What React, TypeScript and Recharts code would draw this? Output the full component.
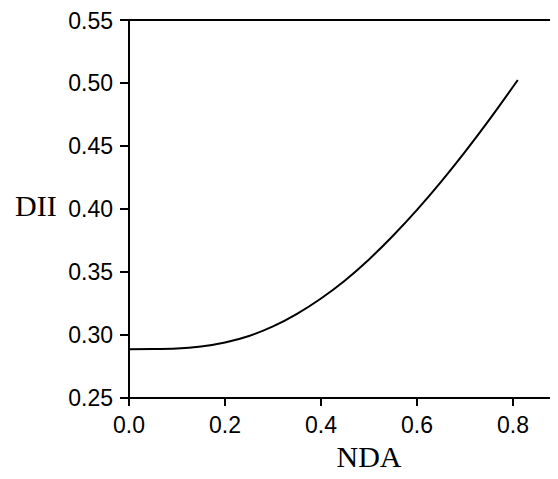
import React from 'react';
import { LineChart, Line, XAxis, YAxis, ReferenceLine } from 'recharts';

const ndaValues = [0, 0.05, 0.1, 0.15, 0.2, 0.25, 0.3, 0.35, 0.4, 0.45, 0.5, 0.55, 0.6, 0.65, 0.7, 0.75, 0.8, 0.81];
const diiValues = [0.2887, 0.2888, 0.2892, 0.2908, 0.294, 0.2992, 0.3068, 0.3168, 0.329, 0.3433, 0.36, 0.3788, 0.3993, 0.4215, 0.4453, 0.4705, 0.497, 0.5024];
const xTicks = [0, 0.2, 0.4, 0.6, 0.8];
const yTicks = [0.25, 0.3, 0.35, 0.4, 0.45, 0.5, 0.55];

const data = ndaValues.map((x, i) => ({ nda: x, dii: diiValues[i] }));

const tickStyle = { fill: '#000', fontSize: 23, fontFamily: '"Liberation Sans", Arial, sans-serif' };
const labelStyle = { fill: '#000', fontSize: 30, fontFamily: '"Liberation Serif", "Times New Roman", serif' };

export default function App() {
  return (
    <div style={{ width: 550, height: 471, overflow: 'hidden', background: '#fff' }}>
      <LineChart width={640} height={471} data={data} margin={{ top: 12, right: 39, bottom: 11, left: 0 }}>
        <XAxis
          dataKey="nda"
          type="number"
          domain={[0, 1]}
          ticks={xTicks}
          tickFormatter={(v: number) => v.toFixed(1)}
          tick={tickStyle}
          tickSize={8}
          tickMargin={11}
          height={70}
          axisLine={{ stroke: '#000', strokeWidth: 2 }}
          tickLine={{ stroke: '#000', strokeWidth: 2 }}
          label={{ value: 'NDA', position: 'insideBottom', offset: 1, style: labelStyle }}
        />
        <YAxis
          dataKey="dii"
          type="number"
          domain={[0.25, 0.55]}
          ticks={yTicks}
          tickFormatter={(v: number) => v.toFixed(2)}
          tick={tickStyle}
          tickSize={9}
          tickMargin={7}
          width={121}
          axisLine={{ stroke: '#000', strokeWidth: 2 }}
          tickLine={{ stroke: '#000', strokeWidth: 2 }}
          label={{ value: 'DII', position: 'insideLeft', offset: 7, dy: -4, style: labelStyle }}
        />
        <ReferenceLine y={0.55} stroke="#000" strokeWidth={2} />
        <Line
          type="monotone"
          dataKey="dii"
          stroke="#000"
          strokeWidth={2}
          dot={false}
          isAnimationActive={false}
        />
      </LineChart>
    </div>
  );
}
